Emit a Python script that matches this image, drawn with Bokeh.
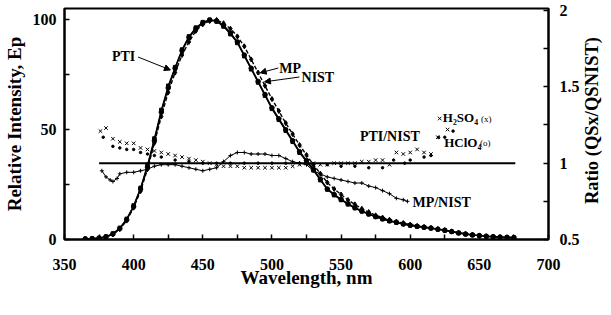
import math
from bokeh.plotting import figure
from bokeh.layouts import row
from bokeh.models import Range1d, LinearAxis, FixedTicker, Arrow, NormalHead
from bokeh.core.properties import value
from bokeh.embed import file_html
from bokeh.resources import INLINE

FONT = "Liberation Serif"

# ---- emission spectra (relative intensity, left axis) ----
wl = [365, 370, 375, 380, 385, 390, 395, 400, 405, 410, 415, 420, 425, 430, 435,
      440, 445, 450, 455, 460, 465, 470, 475, 480, 485, 490, 495, 500, 505, 510,
      515, 520, 525, 530, 535, 540, 545, 550, 555, 560, 565, 570, 575, 580, 585,
      590, 595, 600, 605, 610, 615, 620, 625, 630, 635, 640, 645, 650, 655, 660,
      665, 670, 675]
nist = [0.3, 0.4, 0.6, 1.2, 2.5, 5, 9, 15, 23, 33, 45, 58, 69, 78, 86,
        92, 96, 98.5, 100, 99.5, 97.5, 94, 90, 84, 78, 72, 66, 60, 55, 50,
        45, 40, 36, 32, 27.5, 23, 20.5, 18.3, 16.3, 14.5, 13, 11.6, 10.4, 9.4, 8.5,
        7.8, 7.1, 6.5, 6, 5.6, 5.2, 4.7, 4.2, 3.6, 3.0, 2.5, 2.1, 1.8, 1.5, 1.3,
        1.1, 1.0, 0.9]
pti = [0.2, 0.4, 0.7, 1.3, 2.7, 5.3, 9.4, 15.5, 23.5, 34, 46, 59, 70, 78.5, 86.5,
       92.5, 96.5, 99, 100, 99.3, 97, 93.5, 89.5, 83.5, 77.5, 71.5, 65.5, 59.5, 54.5, 49.5,
       44.5, 39.5, 35.5, 31.5, 27, 22.8, 20.2, 18, 16, 14.3, 12.8, 11.5, 10.3, 9.3, 8.4,
       7.7, 7.0, 6.4, 5.9, 5.5, 5.1, 4.6, 4.1, 3.5, 2.9, 2.4, 2.0, 1.7, 1.4, 1.2,
       1.0, 0.9, 0.8]
mp = [0.3, 0.4, 0.6, 1.1, 2.3, 4.7, 8.6, 14.5, 22, 32, 44, 56, 67, 76, 84,
      90, 95, 98, 99.5, 100, 98.5, 96, 92.5, 88, 82, 76, 70, 64, 58.5, 53,
      48, 43, 38.5, 34, 30, 26, 23, 20.5, 18, 16, 14, 12.5, 11, 10, 9,
      8.2, 7.5, 6.8, 6.2, 5.7, 5.3, 4.8, 4.3, 3.7, 3.1, 2.6, 2.2, 1.8, 1.5, 1.3,
      1.1, 1.0, 0.9]

# ---- ratio curves (right axis) ----
h2so4_wl = [376, 380, 385, 390, 395, 400, 405, 410, 415, 420, 425, 430, 435, 440,
            445, 450, 455, 460, 465, 470, 475, 480, 485, 490, 495, 500, 505, 510,
            515, 520, 525, 530, 535, 540, 545, 550, 555, 560, 565, 570, 575, 580,
            585, 590, 595, 600, 605, 610, 615, 620, 627]
h2so4 = [1.21, 1.23, 1.16, 1.14, 1.13, 1.13, 1.10, 1.09, 1.08, 1.07, 1.06, 1.05, 1.04, 1.03,
         1.02, 1.01, 1.00, 0.99, 0.98, 0.98, 0.98, 0.97, 0.97, 0.97, 0.97, 0.97, 0.97, 0.97,
         0.98, 0.99, 1.00, 1.00, 0.99, 0.99, 1.00, 1.00, 1.00, 1.00, 1.01, 1.01, 1.02, 1.02,
         0.99, 1.07, 1.06, 1.07, 1.09, 1.07, 1.06, 1.17, 1.22]
hclo4_wl = [378, 385, 390, 395, 400, 405, 410, 415, 420, 430, 440, 450, 460, 470,
            480, 490, 500, 510, 520, 530, 540, 550, 560, 570, 580, 588, 596, 600,
            610, 615, 625, 631]
hclo4 = [1.17, 1.11, 1.10, 1.09, 1.09, 1.07, 1.06, 1.05, 1.04, 1.02, 1.01, 1.00, 1.00, 1.00,
         1.00, 1.00, 1.00, 1.00, 1.00, 0.99, 0.99, 0.98, 0.98, 0.97, 0.97, 1.02, 1.00, 1.02,
         1.04, 1.05, 1.17, 1.21]
mpn_wl = [377, 380, 383, 385, 388, 390, 395, 400, 405, 410, 415, 420, 425, 430, 435,
          440, 445, 450, 455, 460, 465, 470, 475, 480, 485, 490, 495, 500, 505, 510,
          515, 520, 525, 530, 535, 540, 545, 550, 555, 560, 565, 570, 575, 580, 585,
          590, 595, 598]
mpn = [0.95, 0.91, 0.89, 0.88, 0.90, 0.93, 0.94, 0.94, 0.95, 0.96, 0.98, 0.99, 0.99, 0.99, 0.98,
       0.97, 0.96, 0.95, 0.96, 0.97, 1.01, 1.05, 1.07, 1.07, 1.06, 1.06, 1.06, 1.05, 1.05, 1.03,
       1.01, 1.00, 0.99, 0.95, 0.93, 0.91, 0.90, 0.89, 0.88, 0.87, 0.87, 0.85, 0.84, 0.82, 0.80,
       0.77, 0.76, 0.75]
ref_wl = [375, 676]
ref = [1.0, 1.0]

x_ticks = [350, 400, 450, 500, 550, 600, 650, 700]
x_minor = [375, 425, 475, 525, 575, 625, 675]
y_ticks = [0, 50, 100]
y_minor = [25, 75]
r_ticks = [0.5, 1, 1.5, 2]
r_minor = [0.75, 1.25, 1.75]
r_labels = ["0.5", "1", "1.5", "2"]
x_title = "Wavelength, nm"
y_title = "Relative Intensity, Ep"
right_title = "Ratio (QSx/QSNIST)"

W_MAIN, W_RIGHT, H = 582, 21, 299

p = figure(width=W_MAIN, height=H, output_backend="svg", toolbar_location=None,
           x_range=Range1d(350, 700), y_range=Range1d(0, 105.2),
           min_border_left=62, min_border_right=30, min_border_top=8, min_border_bottom=60,
           background_fill_color="white", border_fill_color="white")
p.extra_y_ranges = {"ratio": Range1d(0.5, 2.013)}
p.grid.visible = False
p.outline_line_color = "black"
p.outline_line_width = 2


def style(ax):
    ax.axis_line_width = 2
    ax.major_tick_in = 5
    ax.major_tick_out = 0
    ax.minor_tick_in = 5
    ax.minor_tick_out = 0
    ax.major_tick_line_width = 1.5
    ax.minor_tick_line_width = 1.5
    ax.major_label_text_font = FONT
    ax.major_label_text_font_style = "bold"
    ax.major_label_text_font_size = "16px"
    ax.major_label_text_color = "black"
    ax.axis_label_text_font = FONT
    ax.axis_label_text_font_style = "bold"
    ax.axis_label_text_font_size = "19px"
    ax.axis_label_text_color = "black"


xa = p.xaxis[0]
xa.ticker = FixedTicker(ticks=x_ticks, minor_ticks=x_minor)
xa.axis_label = x_title
style(xa)
xa.major_label_standoff = 19
xa.axis_label_standoff = -6

ya = p.yaxis[0]
ya.ticker = FixedTicker(ticks=y_ticks, minor_ticks=y_minor)
ya.axis_label = y_title
style(ya)
ya.major_label_standoff = 8
ya.axis_label_standoff = 5

ra = LinearAxis(y_range_name="ratio",
                ticker=FixedTicker(ticks=r_ticks, minor_ticks=r_minor))
ra.major_label_overrides = {t: s for t, s in zip(r_ticks, r_labels)}
style(ra)
ra.major_label_standoff = 11
p.add_layout(ra, "right")

# emission spectra
p.line(wl, nist, line_color="black", line_width=1.6)
p.scatter(wl, nist, marker="circle", size=4.5, color="black")
p.line(wl, pti, line_color="black", line_width=1.2)
p.scatter(wl, pti, marker="square", size=3.5, color="black")
p.line(wl, mp, line_color="black", line_width=1.4, line_dash="4 2")
p.scatter(wl, mp, marker="diamond", size=5, color="black")

# ratio curves
p.line(ref_wl, ref, y_range_name="ratio", line_color="black", line_width=2)
p.line(mpn_wl, mpn, y_range_name="ratio", line_color="black", line_width=1)
p.scatter(mpn_wl, mpn, y_range_name="ratio", marker="cross", size=4, color="black")
p.scatter(h2so4_wl, h2so4, y_range_name="ratio", marker="x", size=5, color="black", line_width=1)
p.scatter(hclo4_wl, hclo4, y_range_name="ratio", marker="circle", size=2.5, color="black")

# annotations
lab = dict(text_font=value(FONT), text_font_style="bold", text_color="black",
           text_baseline="middle", text_align="left")
p.text(x=[384.3], y=[83.5], text=["PTI"], text_font_size="14px", **lab)
p.text(x=[505.3], y=[78.1], text=["MP"], text_font_size="14px", **lab)
p.text(x=[521.4], y=[74.0], text=["NIST"], text_font_size="14px", **lab)
p.text(x=[563.6], y=[47.0], text=["PTI/NIST"], text_font_size="14px", **lab)
p.text(x=[601.6], y=[16.7], text=["MP/NIST"], text_font_size="14px", **lab)
p.text(x=[623.6], y=[55.5], text=["H\u2082SO\u2084"], text_font_size="13px", **lab)
p.text(x=[624.6], y=[44.2], text=["HClO\u2084"], text_font_size="13px", **lab)
small = dict(text_font=value(FONT), text_color="black", text_baseline="middle",
             text_align="left", text_font_size="9px")
p.text(x=[651.2], y=[55.0], text=["(x)"], **small)
p.text(x=[650.4], y=[43.8], text=["(o)"], **small)
p.scatter([621.3], [55.1], marker="x", size=5, color="black")
p.scatter([620.5], [46.5], marker="circle", size=2.5, color="black")

for xs, ys, xe, ye in [(403.2, 83.1, 426.6, 77.2), (504.6, 78.1, 491.5, 75.9),
                       (519.9, 74.0, 494.6, 71.8)]:
    p.add_layout(Arrow(end=NormalHead(size=6, fill_color="black", line_color="black"),
                       x_start=xs, y_start=ys, x_end=xe, y_end=ye,
                       line_color="black", line_width=1))

# right-hand axis title (reads bottom-to-top) in a narrow strip
q = figure(width=W_RIGHT, height=H, output_backend="svg", toolbar_location=None,
           x_range=Range1d(0, W_RIGHT), y_range=Range1d(0, H),
           min_border_left=0, min_border_right=0, min_border_top=0, min_border_bottom=0,
           x_axis_location=None, y_axis_location=None,
           background_fill_color="white", border_fill_color="white")
q.grid.visible = False
q.outline_line_color = None
q.text(x=[W_RIGHT * 0.45], y=[H - 145], text=[right_title], angle=math.pi / 2,
       text_font=value(FONT), text_font_style="bold", text_font_size="18.5px",
       text_color="black", text_align="center", text_baseline="middle")

layout = row(p, q, spacing=0)
open("out.html", "w").write(file_html(layout, INLINE))
